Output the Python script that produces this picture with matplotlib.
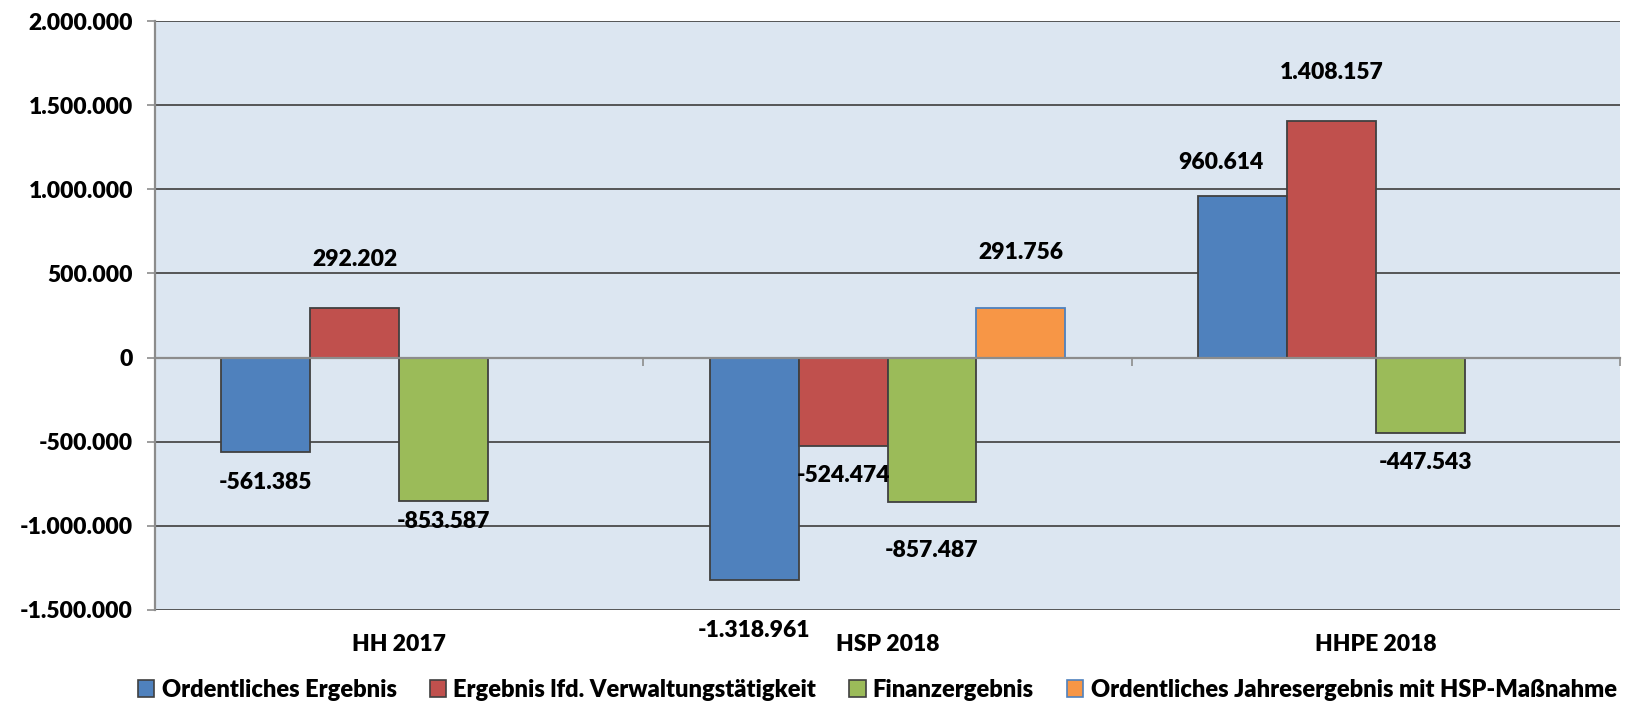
import numpy as np
import matplotlib.pyplot as plt
import matplotlib.transforms as mtransforms
from matplotlib.patches import Patch

# Werte aus dem Diagramm
kategorien = ['HH 2017', 'HSP 2018', 'HHPE 2018']
ordentliches_ergebnis = [-561385, -1318961, 960614]
lfd_verwaltung = [292202, -524474, 1408157]
finanzergebnis = [-853587, -857487, -447543]
jahresergebnis_hsp = [np.nan, 291756, np.nan]

serien_namen = ['Ordentliches Ergebnis', 'Ergebnis lfd. Verwaltungstätigkeit',
                'Finanzergebnis', 'Ordentliches Jahresergebnis mit HSP-Maßnahme']
serien = [ordentliches_ergebnis, lfd_verwaltung, finanzergebnis, jahresergebnis_hsp]
farben = ['#4F81BD', '#C0504D', '#9BBB59', '#F79646']
kanten = ['#404040', '#404040', '#404040', '#4F81BD']

# Position der Datenbeschriftungen (Pixel relativ zum Balkenende)
label_offsets = [
    [(0, -30), (0, -51), (-22, 33)],
    [(0, 49), (0, -30), (0, 48)],
    [(0, -20), (0, -49), (5, -30)],
    [(0, 0), (0, 56), (0, 0)],
]


def de_format(v):
    return f'{v:,.0f}'.replace(',', '.')


plt.rcParams['font.family'] = ['Lato', 'DejaVu Sans']
GEWICHT = 'heavy'

fig = plt.figure(figsize=(16.32, 7.09), dpi=100)
ax = fig.add_axes([155 / 1632, 1 - 610 / 709, (1620 - 155) / 1632, 589 / 709])
ax.set_facecolor('#DCE6F1')

x = np.arange(len(kategorien))
breite = 0.182
for i, (werte, farbe, kante) in enumerate(zip(serien, farben, kanten)):
    pos = x + (i - 1.5) * breite
    ax.bar(pos, werte, breite, color=farbe, edgecolor=kante, linewidth=1.3, zorder=2)
    for j, v in enumerate(werte):
        if np.isnan(v):
            continue
        dx, dy = label_offsets[i][j]
        ax.annotate(de_format(v), xy=(pos[j], v), xytext=(dx, dy),
                    textcoords='offset pixels', ha='center', va='center',
                    fontsize=16.5, fontweight=GEWICHT, color='black')

ax.set_ylim(-1500000, 2000000)
ax.set_xlim(-0.5, 2.5)
ax.set_yticks(np.arange(-1500000, 2000001, 500000))
ax.set_yticklabels([de_format(t) for t in ax.get_yticks()], fontsize=16.5, fontweight=GEWICHT)
ax.yaxis.grid(True, color='#4a4a4a', linewidth=1.3)
ax.set_axisbelow(True)

ax.set_xticks([-0.5, 0.5, 1.5, 2.5])
ax.set_xticklabels([])
ax.spines['bottom'].set_position(('data', 0))
ax.spines['bottom'].set_color('#8c8c8c')
ax.spines['bottom'].set_linewidth(1.6)
ax.spines['bottom'].set_zorder(3)
ax.spines['left'].set_color('#8c8c8c')
ax.spines['left'].set_linewidth(1.6)
ax.spines['top'].set_visible(False)
ax.spines['right'].set_visible(False)
ax.tick_params(axis='x', direction='out', length=5.8, width=1.2, color='#8c8c8c')
ax.tick_params(axis='y', direction='out', length=5.8, width=1.2, color='#8c8c8c', pad=10)

trans = mtransforms.blended_transform_factory(ax.transData, ax.transAxes)
for xi, kat in zip(x, kategorien):
    ax.text(xi, -0.058, kat, transform=trans, ha='center', va='center',
            fontsize=16.5, fontweight=GEWICHT)

handles = [Patch(facecolor=f, edgecolor=k, linewidth=1.2) for f, k in zip(farben, kanten)]
fig.legend(handles, serien_namen, loc='center', bbox_to_anchor=(0.5375, 0.027), ncol=4,
           frameon=False, prop={'size': 17, 'weight': GEWICHT},
           handlelength=0.7, handleheight=0.7,
           handletextpad=0.3, columnspacing=1.4, borderaxespad=0)

plt.savefig('out.png', dpi=100)
